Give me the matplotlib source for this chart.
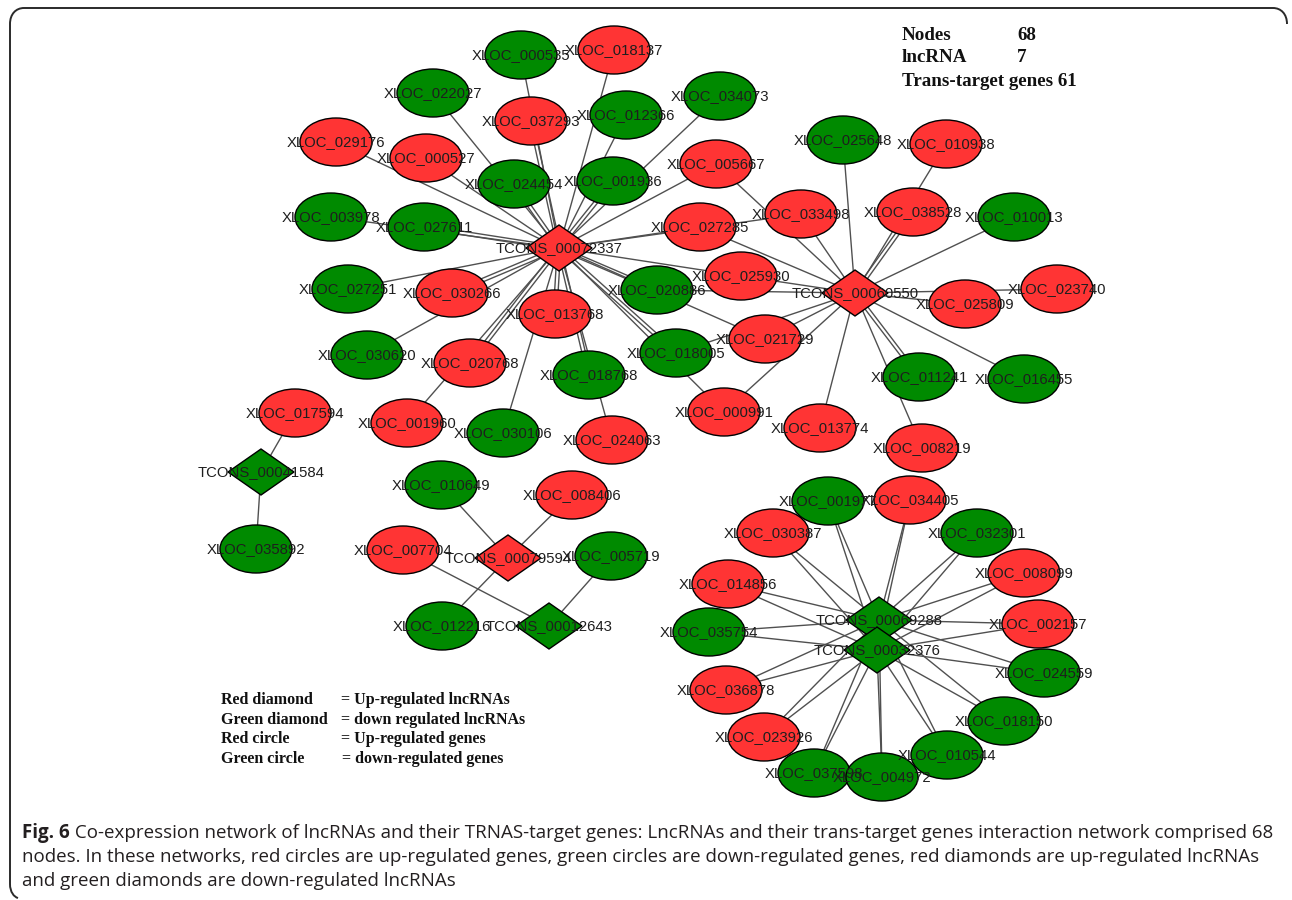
import matplotlib
matplotlib.use("Agg")
import matplotlib.pyplot as plt
import numpy as np
from matplotlib.patches import Ellipse, Polygon, PathPatch
from matplotlib.path import Path

# lncRNA nodes (diamonds) and their regulation
lncrnas = ["TCONS_00072337", "TCONS_00060550", "TCONS_00041584", "TCONS_00079594",
           "TCONS_00012643", "TCONS_00069288", "TCONS_00032376"]
lnc_up = ["TCONS_00072337", "TCONS_00060550", "TCONS_00079594"]

# trans-target genes (ellipses)
genes_up = ["XLOC_018137", "XLOC_037293", "XLOC_029176", "XLOC_000527", "XLOC_005667",
            "XLOC_030266", "XLOC_013768", "XLOC_020768", "XLOC_001960", "XLOC_024063",
            "XLOC_010938", "XLOC_033498", "XLOC_038528", "XLOC_027285", "XLOC_025930",
            "XLOC_023740", "XLOC_025809", "XLOC_021729", "XLOC_000991", "XLOC_013774",
            "XLOC_008219", "XLOC_017594", "XLOC_008406", "XLOC_007704", "XLOC_034405",
            "XLOC_030387", "XLOC_008099", "XLOC_014856", "XLOC_002157", "XLOC_036878",
            "XLOC_023926"]
genes_down = ["XLOC_000535", "XLOC_022027", "XLOC_012366", "XLOC_034073", "XLOC_024454",
              "XLOC_001936", "XLOC_003978", "XLOC_027611", "XLOC_027251", "XLOC_020886",
              "XLOC_030620", "XLOC_018768", "XLOC_018005", "XLOC_030106", "XLOC_025648",
              "XLOC_010013", "XLOC_011241", "XLOC_016455", "XLOC_035892", "XLOC_010649",
              "XLOC_005719", "XLOC_012216", "XLOC_001977", "XLOC_032301", "XLOC_035754",
              "XLOC_024559", "XLOC_018150", "XLOC_010544", "XLOC_037598", "XLOC_004972"]

# interactions (repeated pairs are parallel edges)
hub1_targets = ["000535", "018137", "022027", "037293", "037293", "012366", "034073",
                "029176", "000527", "024454", "024454", "001936", "001936", "005667",
                "003978", "027611", "027611", "027251", "030266", "030266", "013768",
                "013768", "020886", "020886", "030620", "020768", "020768", "018768",
                "018768", "018005", "018005", "001960", "030106", "024063", "027285",
                "025930", "033498", "021729", "000991"]
hub2_targets = ["025648", "010938", "038528", "038528", "010013", "033498", "005667",
                "027285", "025930", "020886", "023740", "025809", "021729", "018005",
                "000991", "013774", "011241", "011241", "008219", "016455"]
pair_targets = ["001977", "034405", "030387", "032301", "008099", "014856", "002157",
                "035754", "024559", "036878", "018150", "023926", "010544", "037598",
                "004972"]
small_edges = [("TCONS_00041584", "XLOC_017594"), ("TCONS_00041584", "XLOC_035892"),
               ("TCONS_00079594", "XLOC_010649"), ("TCONS_00079594", "XLOC_008406"),
               ("TCONS_00079594", "XLOC_012216"), ("TCONS_00012643", "XLOC_007704"),
               ("TCONS_00012643", "XLOC_005719")]

edges = [("TCONS_00072337", "XLOC_" + g) for g in hub1_targets]
edges += [("TCONS_00060550", "XLOC_" + g) for g in hub2_targets]
for g in pair_targets:
    edges.append(("TCONS_00069288", "XLOC_" + g))
    edges.append(("TCONS_00032376", "XLOC_" + g))
edges += small_edges

# network layout (pixel coordinates)
layout = {
    "TCONS_00072337": (559, 248), "TCONS_00060550": (855, 293),
    "TCONS_00041584": (261, 472), "TCONS_00079594": (508, 558),
    "TCONS_00012643": (549, 626), "TCONS_00069288": (879, 620),
    "TCONS_00032376": (877, 650),
    "XLOC_000535": (521, 55), "XLOC_018137": (614, 50), "XLOC_022027": (433, 93),
    "XLOC_037293": (531, 121), "XLOC_012366": (626, 115), "XLOC_034073": (720, 96),
    "XLOC_029176": (336, 142), "XLOC_000527": (426, 158), "XLOC_024454": (514, 184),
    "XLOC_001936": (613, 181), "XLOC_005667": (716, 164), "XLOC_003978": (331, 217),
    "XLOC_027611": (424, 227), "XLOC_027251": (348, 289), "XLOC_030266": (452, 293),
    "XLOC_013768": (555, 314), "XLOC_020886": (657, 290), "XLOC_030620": (367, 355),
    "XLOC_020768": (470, 363), "XLOC_018768": (589, 375), "XLOC_018005": (676, 353),
    "XLOC_001960": (407, 423), "XLOC_030106": (503, 433), "XLOC_024063": (612, 440),
    "XLOC_025648": (843, 140), "XLOC_010938": (946, 144), "XLOC_033498": (801, 214),
    "XLOC_038528": (913, 212), "XLOC_010013": (1014, 217), "XLOC_027285": (700, 227),
    "XLOC_025930": (741, 276), "XLOC_023740": (1057, 289), "XLOC_025809": (965, 304),
    "XLOC_021729": (765, 339), "XLOC_011241": (919, 377), "XLOC_016455": (1024, 379),
    "XLOC_000991": (724, 412), "XLOC_013774": (820, 428), "XLOC_008219": (922, 448),
    "XLOC_017594": (295, 413), "XLOC_035892": (256, 549), "XLOC_010649": (441, 485),
    "XLOC_008406": (572, 495), "XLOC_007704": (403, 550), "XLOC_005719": (611, 556),
    "XLOC_012216": (442, 626),
    "XLOC_001977": (828, 501), "XLOC_034405": (910, 500), "XLOC_030387": (773, 533),
    "XLOC_032301": (977, 533), "XLOC_008099": (1024, 573), "XLOC_014856": (728, 584),
    "XLOC_002157": (1038, 624), "XLOC_035754": (709, 632), "XLOC_024559": (1044, 673),
    "XLOC_036878": (726, 690), "XLOC_018150": (1004, 721), "XLOC_023926": (764, 737),
    "XLOC_010544": (947, 755), "XLOC_037598": (814, 773), "XLOC_004972": (882, 777),
}

legend_keys = ["Red diamond", "Green diamond", "Red circle", "Green circle"]
legend_vals = ["= Up-regulated lncRNAs", "= down regulated lncRNAs",
               "= Up-regulated genes", "= down-regulated genes"]
stat_keys = ["Nodes", "lncRNA", "Trans-target genes 61"]
stat_vals = ["68", "7", ""]

caption_bold = "Fig. 6"
caption_lines = [
    " Co-expression network of lncRNAs and their TRNAS-target genes: LncRNAs and their "
    "trans-target genes interaction network comprised 68",
    "nodes. In these networks, red circles are up-regulated genes, green circles are "
    "down-regulated genes, red diamonds are up-regulated lncRNAs",
    "and green diamonds are down-regulated lncRNAs",
]

RED = "#ff3434"
GREEN = "#008a00"
W, H = 1292, 900

fig = plt.figure(figsize=(W / 100, H / 100), dpi=100)
ax = fig.add_axes([0, 0, 1, 1])
ax.set_xlim(0, W)
ax.set_ylim(H, 0)
ax.axis("off")

# edges, parallel ones pushed apart a little
seen = {}
for a, b in edges:
    key = (a, b)
    seen[key] = seen.get(key, 0) + 1
count = {}
for a, b in edges:
    n = seen[(a, b)]
    k = count.get((a, b), 0)
    count[(a, b)] = k + 1
    x0, y0 = layout[a]
    x1, y1 = layout[b]
    d = np.hypot(x1 - x0, y1 - y0)
    nx, ny = -(y1 - y0) / d, (x1 - x0) / d
    off = (k - (n - 1) / 2) * 3.5
    ax.plot([x0 + nx * off, x1 + nx * off], [y0 + ny * off, y1 + ny * off],
            color="#505050", lw=1.0, zorder=1, solid_capstyle="butt")

# gene nodes
for g in genes_up + genes_down:
    x, y = layout[g]
    c = RED if g in genes_up else GREEN
    ax.add_patch(Ellipse((x, y), 72, 48, facecolor=c, edgecolor="black", lw=1.0, zorder=2))

# lncRNA nodes
for t in lncrnas:
    x, y = layout[t]
    c = RED if t in lnc_up else GREEN
    ax.add_patch(Polygon([(x - 33, y), (x, y - 23), (x + 33, y), (x, y + 23)], closed=True,
                         facecolor=c, edgecolor="black", lw=1.0, zorder=2))

for name in genes_up + genes_down + lncrnas:
    x, y = layout[name]
    ax.text(x, y, name, ha="center", va="center", fontsize=10.7,
            family="Liberation Sans", color="#1e1e1e", zorder=4)

# summary block
for i, (k, v) in enumerate(zip(stat_keys, stat_vals)):
    y = 35 + i * 23
    ax.text(902, y, k, ha="left", va="center", fontsize=13.7, family="Liberation Serif",
            weight="bold", color="#111111")
    ax.text(1017, y, v, ha="left", va="center", fontsize=13.7, family="Liberation Serif",
            weight="bold", color="#111111")

# legend text
for i, (k, v) in enumerate(zip(legend_keys, legend_vals)):
    y = 700 + i * 19.7
    ax.text(221, y, k, ha="left", va="center", fontsize=11.5, family="Liberation Serif",
            weight="bold", color="#111111")
    ax.text(341 if i < 3 else 342, y, v, ha="left", va="center", fontsize=11.5,
            family="Liberation Serif", weight="bold", color="#111111")

# frame around the figure
verts = [(1287, 24), (1287, 14), (1281, 8), (1273, 8), (24, 8), (16, 8), (10, 14), (10, 24),
         (10, 884), (10, 892), (14, 897), (18, 898)]
codes = [Path.MOVETO, Path.CURVE4, Path.CURVE4, Path.CURVE4, Path.LINETO, Path.CURVE4,
         Path.CURVE4, Path.CURVE4, Path.LINETO, Path.CURVE4, Path.CURVE4, Path.CURVE4]
ax.add_patch(PathPatch(Path(verts, codes), facecolor="none", edgecolor="#2a2a2a", lw=1.4,
                       zorder=5))

# caption
cap_font = "Open Sans"
cap_size = 13.5
fb = ax.text(22, 833, caption_bold, ha="left", va="center", fontsize=cap_size,
             family=cap_font, weight="bold", color="#231f20")
fig.canvas.draw()
bw = fb.get_window_extent().width
ax.text(22 + bw, 833, caption_lines[0], ha="left", va="center", fontsize=cap_size,
        family=cap_font, color="#231f20")
ax.text(22, 857, caption_lines[1], ha="left", va="center", fontsize=cap_size,
        family=cap_font, color="#231f20")
ax.text(22, 881, caption_lines[2], ha="left", va="center", fontsize=cap_size,
        family=cap_font, color="#231f20")

fig.savefig("out.png", dpi=100)
